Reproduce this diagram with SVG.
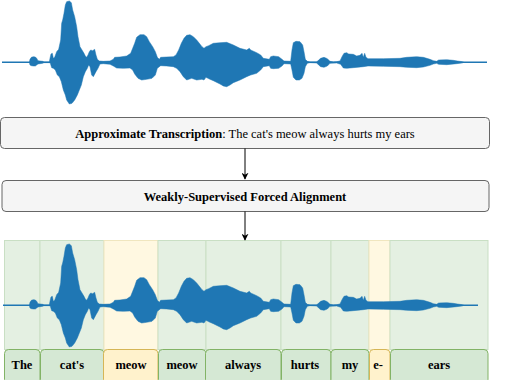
<svg xmlns="http://www.w3.org/2000/svg" xmlns:xlink="http://www.w3.org/1999/xlink" width="506" height="380" viewBox="0 0 506 380">
<style>
  text { font-family: "Liberation Serif", "Times New Roman", serif; font-size: 12.5px; fill: #000; text-anchor: middle; }
  .b { font-weight: bold; }
  .proc { fill: #f5f5f5; stroke: #666666; stroke-width: 1; }
  .colG { fill: #e4f0e2; stroke: #c9dfc4; stroke-width: 1; }
  .colY { fill: #fff8e1; stroke: #f0e6bf; stroke-width: 1; }
  .labG { fill: #d5e8d4; stroke: #82b366; stroke-width: 1; }
  .labY { fill: #fff2cc; stroke: #d6b656; stroke-width: 1; }
  .wave { fill: #1f77b4; stroke: #1f77b4; stroke-width: 1.5; stroke-linejoin: miter; }
  .base { stroke: #1f77b4; stroke-width: 1.4; fill: none; }
  .conn { stroke: #000; stroke-width: 1; fill: none; }
</style>
<defs>
  <marker id="arr" viewBox="0 0 10 10" refX="9" refY="5" markerWidth="7" markerHeight="7" markerUnits="userSpaceOnUse" orient="auto">
    <path d="M0,0 L10,5 L0,10 L3,5 Z" fill="#000"/>
  </marker>
  <g id="waveShape">
    <path class="wave" transform="scale(0.33333)" d="M88,187 L90,178 L94,172 L100,170 L106,171 L110,175 L114,182 L120,183 L128,184 L132,186 L148,186 L150,175 L153,162 L157,160 L160,175 L164,172 L170,155 L176,148 L182,120 L185,70 L188,60 L192,40 L196,15 L200,5 L208,3 L214,8 L218,30 L224,50 L230,80 L234,110 L240,140 L246,150 L252,160 L256,168 L260,172 L264,165 L268,155 L272,150 L278,152 L284,148 L288,165 L292,178 L298,183 L310,184 L330,183 L340,178 L344,172 L360,171 L380,168 L392,160 L398,145 L404,130 L410,112 L420,104 L432,104 L440,110 L448,125 L458,140 L466,155 L472,172 L478,178 L482,172 L500,171 L520,170 L528,165 L536,150 L544,130 L552,115 L560,106 L570,104 L580,110 L590,120 L598,130 L606,140 L612,145 L618,140 L626,137 L640,130 L660,128 L680,127 L700,135 L720,145 L740,150 L748,145 L752,150 L770,158 L782,165 L790,175 L808,178 L812,170 L820,168 L836,170 L846,178 L852,183 L872,184 L876,150 L880,128 L888,124 L900,125 L908,135 L912,155 L916,178 L922,184 L930,186 L950,186 L956,180 L962,175 L972,172 L982,176 L990,184 L1000,186 L1010,185 L1020,183 L1026,170 L1032,160 L1040,158 L1046,162 L1060,163 L1070,168 L1080,166 L1086,160 L1090,172 L1094,160 L1098,172 L1104,176 L1150,176 L1200,175 L1220,172 L1250,170 L1270,172 L1290,178 L1300,182 L1310,184 L1316,180 L1340,179 L1360,181 L1372,183 L1386,185 L1392,187 L1386,189 L1370,191 L1340,194 L1316,193 L1310,190 L1300,192 L1290,196 L1270,201 L1250,203 L1220,202 L1200,200 L1150,199 L1104,198 L1090,200 L1060,203 L1040,205 L1030,204 L1022,193 L1010,189 L990,190 L982,198 L972,202 L962,200 L956,195 L950,189 L930,188 L922,190 L916,200 L912,220 L906,235 L898,240 L888,240 L880,232 L876,210 L872,192 L852,191 L846,198 L836,205 L820,206 L812,205 L808,197 L790,200 L782,210 L770,220 L752,225 L740,230 L720,240 L700,248 L690,255 L680,260 L670,258 L660,252 L640,242 L630,238 L618,232 L612,240 L606,238 L590,240 L575,235 L560,240 L550,230 L540,215 L530,205 L520,200 L500,198 L482,197 L478,200 L472,205 L466,225 L456,235 L440,238 L425,240 L414,235 L404,222 L398,210 L390,204 L370,205 L350,204 L340,198 L330,193 L310,191 L300,192 L294,205 L288,215 L280,230 L275,225 L270,200 L266,195 L262,205 L256,215 L250,230 L244,255 L238,270 L232,285 L224,300 L216,310 L208,312 L200,300 L196,285 L190,270 L184,245 L178,230 L172,225 L166,210 L160,205 L155,203 L151,190 L148,188 L132,188 L128,190 L120,191 L114,192 L110,195 L106,198 L100,198 L94,197 L90,195 Z"/>
  </g>
</defs>

<g id="waveform-top">
  <line class="base" x1="2" y1="62.3" x2="487" y2="62.3"/>
  <use xlink:href="#waveShape" href="#waveShape"/>
</g>

<g id="transcription">
  <rect class="proc" x="0.5" y="117.5" width="489" height="31" rx="4" ry="4"/>
  <text x="245" y="138"><tspan class="b">Approximate Transcription</tspan>: The cat's meow always hurts my ears</text>
</g>

<g id="alignment">
  <rect class="proc" x="2" y="180.5" width="487" height="31" rx="4" ry="4"/>
  <text class="b" x="245" y="200.5">Weakly-Supervised Forced Alignment</text>
</g>

<g id="columns">
  <rect class="colG" x="4.5" y="240.5" width="35.5" height="109"/>
  <rect class="colG" x="40" y="240.5" width="64" height="109"/>
  <rect class="colY" x="104" y="240.5" width="54" height="109"/>
  <rect class="colG" x="158" y="240.5" width="48" height="109"/>
  <rect class="colG" x="206" y="240.5" width="75" height="109"/>
  <rect class="colG" x="281" y="240.5" width="50" height="109"/>
  <rect class="colG" x="331" y="240.5" width="38" height="109"/>
  <rect class="colY" x="369" y="240.5" width="21" height="109"/>
  <rect class="colG" x="390" y="240.5" width="98" height="109"/>
</g>

<g id="waveform-aligned">
  <line class="base" x1="3" y1="305.3" x2="478" y2="305.3"/>
  <use xlink:href="#waveShape" href="#waveShape" transform="translate(0,243)"/>
</g>

<g id="label-the"><rect class="labG" x="4.5" y="349.5" width="35.5" height="34" rx="4"/><text class="b" x="22" y="368.5">The</text></g>
<g id="label-cats"><rect class="labG" x="40.5" y="349.5" width="63.5" height="34" rx="4"/><text class="b" x="72" y="368.5">cat's</text></g>
<g id="label-meow1"><rect class="labY" x="103.5" y="349.5" width="54.5" height="34" rx="4"/><text class="b" x="131" y="368.5">meow</text></g>
<g id="label-meow2"><rect class="labG" x="158.5" y="349.5" width="47.5" height="34" rx="4"/><text class="b" x="182" y="368.5">meow</text></g>
<g id="label-always"><rect class="labG" x="205.5" y="349.5" width="75.5" height="34" rx="4"/><text class="b" x="243" y="368.5">always</text></g>
<g id="label-hurts"><rect class="labG" x="281.5" y="349.5" width="49.5" height="34" rx="4"/><text class="b" x="305" y="368.5">hurts</text></g>
<g id="label-my"><rect class="labG" x="331" y="349.5" width="38" height="34" rx="4"/><text class="b" x="350" y="368.5">my</text></g>
<g id="label-e"><rect class="labY" x="369.5" y="349.5" width="20.5" height="34" rx="4"/><text class="b" x="378" y="368.5">e-</text></g>
<g id="label-ears"><rect class="labG" x="390.5" y="349.5" width="97.5" height="34" rx="4"/><text class="b" x="439" y="368.5">ears</text></g>

<g id="connectors">
  <line class="conn" x1="245" y1="148.5" x2="245" y2="179" marker-end="url(#arr)"/>
  <line class="conn" x1="245" y1="211.5" x2="245" y2="240" marker-end="url(#arr)"/>
</g>
</svg>
